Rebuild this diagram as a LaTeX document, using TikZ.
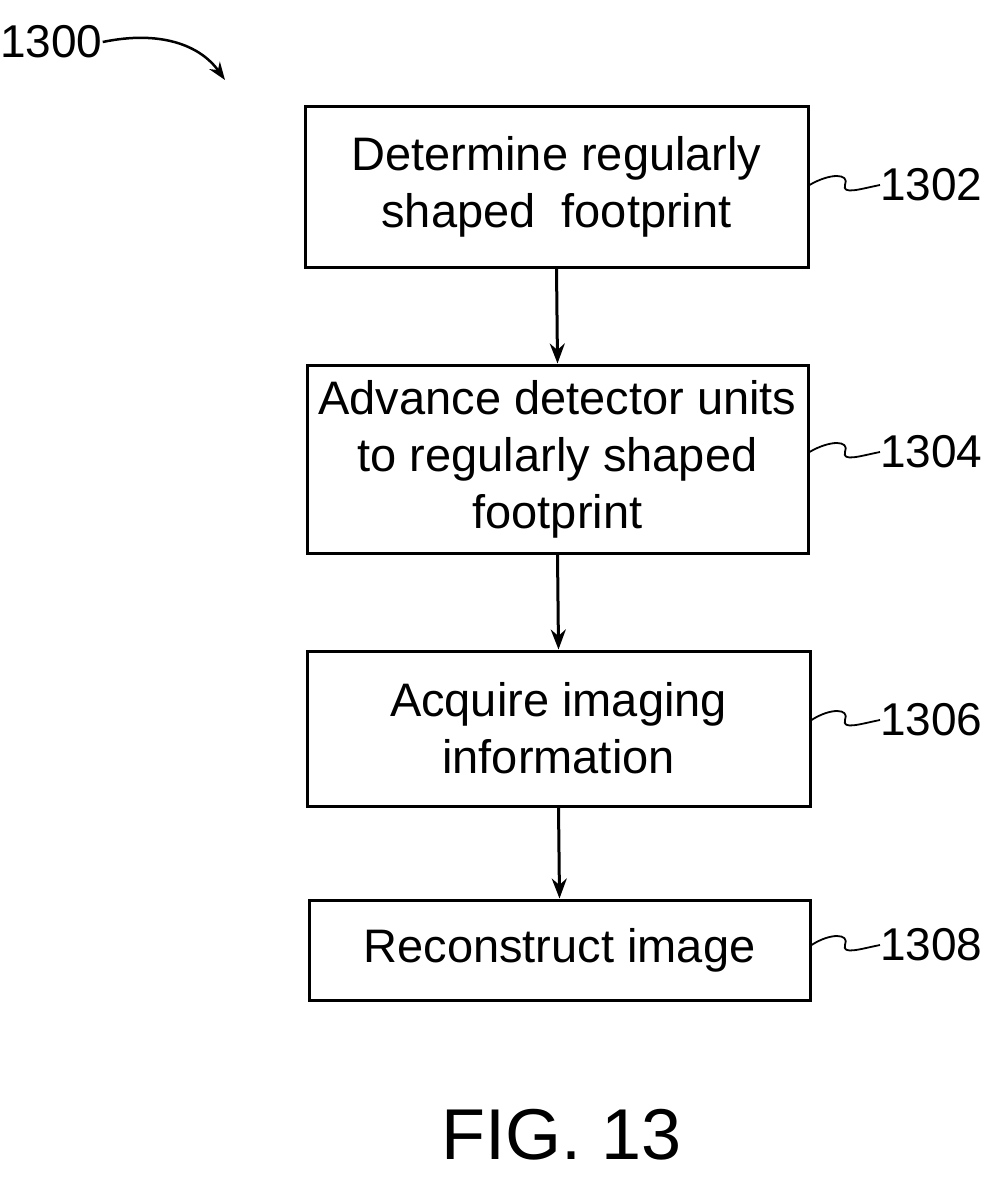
\documentclass[tikz,border=0pt]{standalone}
\usepackage{fontspec}
\setmainfont{Liberation Sans}
\usetikzlibrary{arrows.meta}
\begin{document}
\begin{tikzpicture}[x=1pt,y=-1pt,
  box/.style={draw,line width=3pt,inner sep=0pt,align=center,font=\fontsize{47}{57}\selectfont},
  lbl/.style={font=\fontsize{46}{50}\selectfont,anchor=west,inner sep=0pt},
  arr/.style={line width=3pt,-{Stealth[length=20pt,width=15pt]}},
  sq/.style={line width=1.8pt}]
\useasboundingbox (0,0) rectangle (1007,1190);
\node[box,minimum width=503pt,minimum height=160pt] (b1) at (556.5,187) {Determine regularly\\shaped\ \ footprint};
\node[box,minimum width=501pt,minimum height=188pt] (b2) at (557.5,459) {Advance detector units\\to regularly shaped\\footprint};
\node[box,minimum width=503pt,minimum height=155pt] (b3) at (558.5,728.5) {Acquire imaging\\information};
\node[box,minimum width=501pt,minimum height=100pt] (b4) at (559.5,950) {Reconstruct image};
\draw[arr] (b1.south) -- (b2.north);
\draw[arr] (b2.south) -- (b3.north);
\draw[arr] (b3.south) -- (b4.north);
\foreach \b/\t/\y in {b1/1302/185,b2/1304/452,b3/1306/720,b4/1308/945}{
  \node[lbl] (l\t) at (880,\y) {\t};
  \draw[sq] (\b.east |- 0,\y) .. controls (830,\y-12) and (850,\y-12) .. (845,\y) .. controls (842,\y+10) and (860,\y+4) .. (l\t.west);
}
\node[lbl] (l1300) at (0,42) {1300};
\coordinate (e1300) at (225,80);
\draw[line width=2.5pt,-{Stealth[length=18pt,width=13pt]}] (l1300.east) .. controls (160,30) and (200,45) .. (e1300);
\node[font=\fontsize{72}{80}\selectfont] (fig) at (562,1135) {FIG. 13};
\end{tikzpicture}
\end{document}
